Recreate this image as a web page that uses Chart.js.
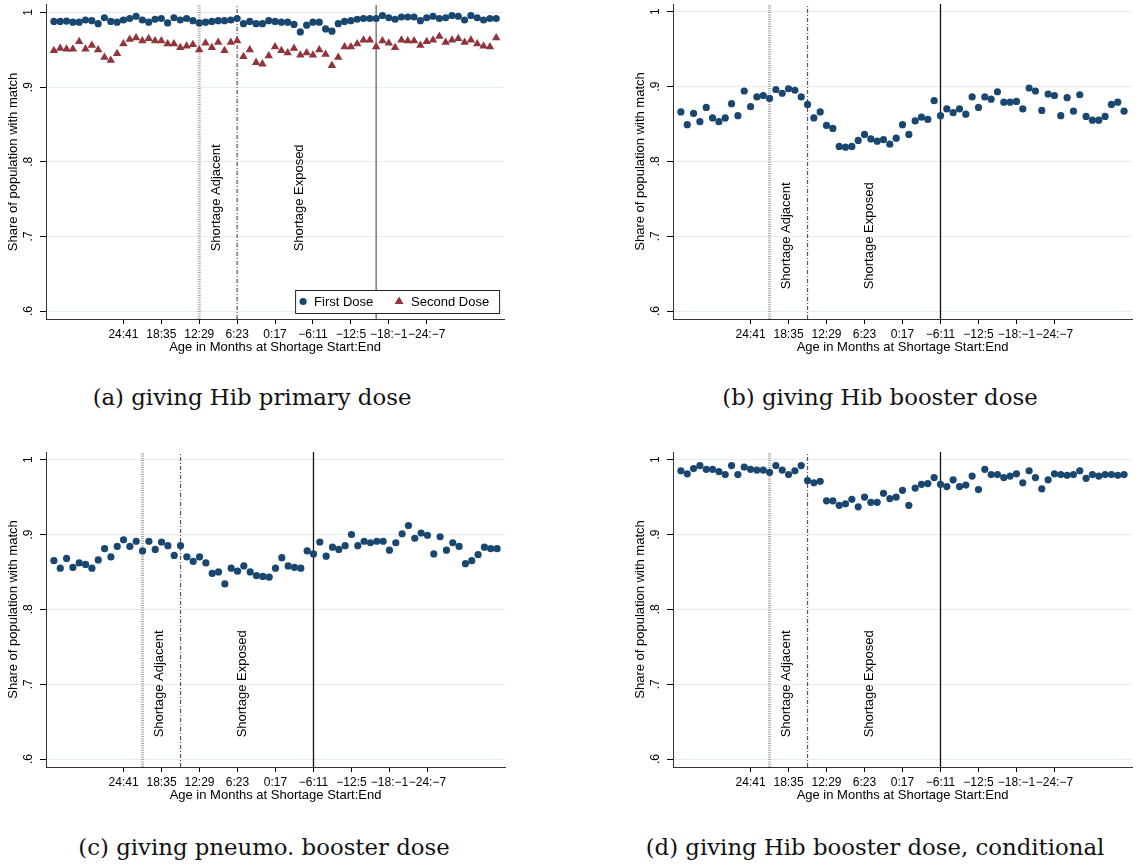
<!DOCTYPE html>
<html>
<head>
<meta charset="utf-8">
<script src="https://cdn.jsdelivr.net/npm/chart.js@4.4.1/dist/chart.umd.min.js"></script>
<style>
  body { margin: 0; background: #fff; width: 1136px; height: 866px; position: relative; overflow: hidden; }
  canvas { position: absolute; }
  .cap { position: absolute; font-family: "DejaVu Serif", serif; font-size: 22.8px; white-space: nowrap; transform: translateX(-50%); color: #111; }
</style>
</head>
<body>
<canvas id="pa" width="509" height="362" style="left:0;top:0"></canvas>
<canvas id="pb" width="509" height="362" style="left:627px;top:0"></canvas>
<canvas id="pc" width="509" height="362" style="left:0;top:448px"></canvas>
<canvas id="pd" width="509" height="362" style="left:627px;top:448px"></canvas>
<div class="cap" style="left:252px;top:384px">(a) giving Hib primary dose</div>
<div class="cap" style="left:880px;top:384px">(b) giving Hib booster dose</div>
<div class="cap" style="left:264px;top:834px">(c) giving pneumo. booster dose</div>
<div class="cap" style="left:875px;top:834px">(d) giving Hib booster dose, conditional</div>
<script>
// age in months at shortage start, one point per month
const ages = [35, 34, 33, 32, 31, 30, 29, 28, 27, 26, 25, 24, 23, 22, 21, 20, 19, 18,
  17, 16, 15, 14, 13, 12, 11, 10, 9, 8, 7, 6, 5, 4, 3, 2, 1, 0,
  -1, -2, -3, -4, -5, -6, -7, -8, -9, -10, -11, -12, -13, -14, -15, -16, -17, -18,
  -19, -20, -21, -22, -23, -24, -25, -26, -27, -28, -29, -30, -31, -32, -33, -34, -35];

const xTickVals = [24, 18, 12, 6, 0, -6, -12, -18, -24];
const xTickLabels = ['24:41', '18:35', '12:29', '6:23', '0:17', '\u22126:11', '\u221212:5', '\u221218:\u22121', '\u221224:\u22127'];
const yTickVals = [0.6, 0.7, 0.8, 0.9, 1];
const yTickLabels = ['.6', '.7', '.8', '.9', '1'];

// (a) Hib primary dose
const hibPrimaryFirst = [0.988, 0.988, 0.9885, 0.987, 0.987, 0.990, 0.989, 0.985, 0.993, 0.988,
  0.987, 0.990, 0.992, 0.995, 0.990, 0.987, 0.991, 0.992, 0.986, 0.993,
  0.990, 0.992, 0.989, 0.986, 0.987, 0.988, 0.989, 0.989, 0.990, 0.992,
  0.985, 0.988, 0.985, 0.985, 0.989, 0.988, 0.987, 0.987, 0.984, 0.974,
  0.983, 0.987, 0.987, 0.978, 0.975, 0.985, 0.988, 0.989, 0.991, 0.992,
  0.992, 0.992, 0.996, 0.993, 0.991, 0.994, 0.994, 0.994, 0.989, 0.993,
  0.995, 0.992, 0.993, 0.996, 0.995, 0.990, 0.996, 0.993, 0.990, 0.992, 0.992];
const hibPrimarySecond = [0.949, 0.952, 0.951, 0.951, 0.961, 0.951, 0.956, 0.950, 0.940, 0.936,
  0.945, 0.958, 0.964, 0.966, 0.962, 0.965, 0.962, 0.962, 0.958, 0.958,
  0.953, 0.955, 0.957, 0.950, 0.959, 0.953, 0.960, 0.949, 0.960, 0.962,
  0.941, 0.950, 0.933, 0.931, 0.942, 0.954, 0.949, 0.946, 0.952, 0.943,
  0.946, 0.943, 0.950, 0.944, 0.929, 0.940, 0.954, 0.954, 0.958, 0.963,
  0.963, 0.954, 0.962, 0.959, 0.953, 0.963, 0.962, 0.962, 0.956, 0.961,
  0.963, 0.968, 0.960, 0.963, 0.965, 0.960, 0.963, 0.958, 0.955, 0.954, 0.966];
// (b) Hib booster dose
const hibBooster = [0.866, 0.849, 0.864, 0.853, 0.872, 0.858, 0.853, 0.858, 0.877, 0.861,
  0.894, 0.873, 0.886, 0.888, 0.884, 0.896, 0.891, 0.897, 0.895, 0.886,
  0.876, 0.858, 0.866, 0.848, 0.844, 0.820, 0.819, 0.820, 0.828, 0.836,
  0.830, 0.827, 0.829, 0.823, 0.831, 0.849, 0.836, 0.854, 0.859, 0.856,
  0.881, 0.861, 0.870, 0.865, 0.870, 0.863, 0.886, 0.872, 0.886, 0.883,
  0.893, 0.879, 0.879, 0.880, 0.870, 0.898, 0.894, 0.868, 0.890, 0.888,
  0.861, 0.885, 0.867, 0.889, 0.860, 0.855, 0.855, 0.860, 0.876, 0.879, 0.867];
// (c) pneumo booster dose
const pneumoBooster = [0.865, 0.855, 0.868, 0.856, 0.862, 0.860, 0.855, 0.866, 0.881, 0.870,
  0.884, 0.893, 0.884, 0.891, 0.878, 0.891, 0.880, 0.890, 0.885, 0.872,
  0.885, 0.870, 0.864, 0.870, 0.862, 0.848, 0.850, 0.834, 0.855, 0.851,
  0.858, 0.850, 0.845, 0.844, 0.843, 0.855, 0.869, 0.858, 0.856, 0.855,
  0.878, 0.874, 0.890, 0.871, 0.883, 0.880, 0.885, 0.900, 0.885, 0.891,
  0.889, 0.891, 0.891, 0.879, 0.889, 0.901, 0.912, 0.895, 0.902, 0.899,
  0.874, 0.897, 0.879, 0.889, 0.884, 0.861, 0.865, 0.873, 0.883, 0.881, 0.881];
// (d) Hib booster dose, conditional
const hibBoosterCond = [0.985, 0.981, 0.988, 0.992, 0.987, 0.987, 0.984, 0.980, 0.992, 0.980,
  0.990, 0.987, 0.986, 0.986, 0.983, 0.992, 0.986, 0.980, 0.985, 0.992,
  0.972, 0.969, 0.971, 0.945, 0.945, 0.939, 0.941, 0.947, 0.937, 0.950,
  0.943, 0.943, 0.955, 0.948, 0.950, 0.959, 0.939, 0.962, 0.967, 0.968,
  0.976, 0.967, 0.964, 0.973, 0.964, 0.966, 0.978, 0.960, 0.987, 0.980,
  0.980, 0.976, 0.978, 0.981, 0.969, 0.985, 0.976, 0.961, 0.973, 0.981,
  0.980, 0.979, 0.980, 0.985, 0.975, 0.980, 0.978, 0.980, 0.980, 0.979, 0.980];

// reference lines: adjacent start, exposed start, exposed end
const linesPrimary = [12, 6, -16];
const linesBooster = [21, 15, -6];
const textPosPrimary = [9.2, -3.8];
const textPosBooster = [18.3, 5.3];
const textLabels = ['Shortage Adjacent', 'Shortage Exposed'];
const seriesNames = ['First Dose', 'Second Dose'];

const NAVY = '#1a476f', MAROON = '#90353b';
const Y_MIN = 0.5894, Y_MAX = 1.0102;
const H = 362;

Chart.defaults.font.family = '"Liberation Sans", Arial, sans-serif';
Chart.defaults.color = '#000';

function pts(vals) {
  return vals.map((v, i) => ({x: ages[i], y: v}));
}

function vlines(pos, solidColor) {
  const styles = [
    {borderColor: 'rgba(150,150,150,0.85)', borderWidth: 3, borderDash: [1, 1.3]},
    {borderColor: '#555', borderWidth: 1.2, borderDash: [4, 2, 1, 2]},
    {borderColor: solidColor, borderWidth: 1.3, borderDash: []}
  ];
  return pos.map((p, i) => Object.assign({
    data: [{x: p, y: Y_MIN}, {x: p, y: Y_MAX}],
    showLine: true, pointRadius: 0, fill: false, order: 10
  }, styles[i]));
}

function extras(textPos, textBottom, withLegend) {
  return {
    id: 'extras',
    afterDatasetsDraw(chart) {
      const ctx = chart.ctx, xs = chart.scales.x, ys = chart.scales.y;
      ctx.save();
      ctx.fillStyle = '#000';
      ctx.font = '13px "Liberation Sans", Arial, sans-serif';
      textPos.forEach((p, i) => {
        ctx.save();
        ctx.translate(xs.getPixelForValue(p), ys.getPixelForValue(textBottom));
        ctx.rotate(-Math.PI / 2);
        ctx.textAlign = 'left';
        ctx.textBaseline = 'middle';
        ctx.fillText(textLabels[i], 0, 0);
        ctx.restore();
      });
      if (withLegend) {
        const a = chart.chartArea;
        const w = 204, h = 23;
        const lx = a.right - 5 - w, ly = a.bottom - 6 - h, cy = ly + h / 2;
        ctx.fillStyle = '#fff';
        ctx.fillRect(lx, ly, w, h);
        ctx.strokeStyle = '#222';
        ctx.lineWidth = 1;
        ctx.strokeRect(lx + 0.5, ly + 0.5, w, h);
        ctx.fillStyle = NAVY;
        ctx.beginPath();
        ctx.arc(lx + 8, cy, 3.6, 0, Math.PI * 2);
        ctx.fill();
        ctx.fillStyle = MAROON;
        ctx.beginPath();
        ctx.moveTo(lx + 104, cy - 5);
        ctx.lineTo(lx + 108.5, cy + 2.5);
        ctx.lineTo(lx + 99.5, cy + 2.5);
        ctx.closePath();
        ctx.fill();
        ctx.fillStyle = '#000';
        ctx.textAlign = 'left';
        ctx.textBaseline = 'middle';
        ctx.fillText(seriesNames[0], lx + 19, cy + 1);
        ctx.fillText(seriesNames[1], lx + 116, cy + 1);
      }
      ctx.restore();
    },
    afterDraw(chart) {
      const ctx = chart.ctx, ys = chart.scales.y;
      ctx.save();
      ctx.fillStyle = '#000';
      ctx.font = '12px "Liberation Sans", Arial, sans-serif';
      yTickVals.forEach((v, i) => {
        ctx.save();
        ctx.translate(29, ys.getPixelForValue(v));
        ctx.rotate(-Math.PI / 2);
        ctx.textAlign = 'center';
        ctx.textBaseline = 'middle';
        ctx.fillText(yTickLabels[i], 0, 0);
        ctx.restore();
      });
      ctx.restore();
    }
  };
}

function makePanel(id, series, lines, solidColor, textPos, textBottom, withLegend) {
  const datasets = series.map(s => ({
    data: pts(s.values),
    backgroundColor: s.color,
    borderWidth: 0,
    pointStyle: s.style,
    pointRadius: s.style === 'triangle' ? 4.9 : 3.6,
    order: 1
  })).concat(vlines(lines, solidColor));

  new Chart(document.getElementById(id), {
    type: 'scatter',
    data: {datasets: datasets},
    options: {
      responsive: false,
      animation: false,
      devicePixelRatio: 1,
      layout: {padding: {top: 1, right: 1, left: 0, bottom: 0}},
      plugins: {legend: {display: false}, tooltip: {enabled: false}},
      scales: {
        x: {
          type: 'linear', reverse: true, min: -36.25, max: 36.25,
          afterBuildTicks: s => { s.ticks = xTickVals.map(v => ({value: v})); },
          afterFit: s => { s.height = H - 319; },
          ticks: {
            autoSkip: false, maxRotation: 0, minRotation: 0, padding: 3,
            font: {size: 12}, color: '#000',
            callback: v => xTickLabels[xTickVals.indexOf(v)]
          },
          grid: {drawOnChartArea: false, drawTicks: true, tickLength: 5, tickColor: '#000'},
          border: {color: '#333', width: 1},
          title: {display: true, text: 'Age in Months at Shortage Start:End', font: {size: 13}, padding: {top: 0, bottom: 7}}
        },
        y: {
          type: 'linear', min: Y_MIN, max: Y_MAX,
          afterBuildTicks: s => { s.ticks = yTickVals.map(v => ({value: v})); },
          afterFit: s => { s.width = 46; },
          ticks: {display: false},
          grid: {color: '#e4eef0', tickColor: '#000', drawTicks: true, tickLength: 6},
          border: {color: '#333', width: 1},
          title: {display: true, text: 'Share of population with match', font: {size: 13}, padding: {top: 6, bottom: 0}}
        }
      }
    },
    plugins: [extras(textPos, textBottom, withLegend)]
  });
}

makePanel('pa', [
  {values: hibPrimaryFirst, color: NAVY, style: 'circle'},
  {values: hibPrimarySecond, color: MAROON, style: 'triangle'}
], linesPrimary, '#666', textPosPrimary, 0.68, true);
makePanel('pb', [{values: hibBooster, color: NAVY, style: 'circle'}], linesBooster, '#111', textPosBooster, 0.629, false);
makePanel('pc', [{values: pneumoBooster, color: NAVY, style: 'circle'}], linesBooster, '#111', textPosBooster, 0.629, false);
makePanel('pd', [{values: hibBoosterCond, color: NAVY, style: 'circle'}], linesBooster, '#111', textPosBooster, 0.629, false);
</script>
</body>
</html>
